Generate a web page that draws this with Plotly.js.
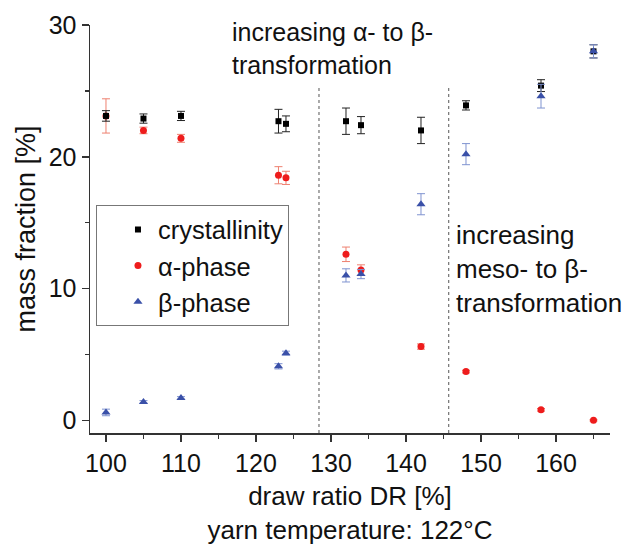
<!DOCTYPE html>
<html>
<head>
<meta charset="utf-8">
<script src="https://cdn.plot.ly/plotly-3.0.1.min.js"></script>
<style>html,body{margin:0;padding:0;background:#fff;}#chart{width:624px;height:545px;}</style>
</head>
<body>
<div id="chart"></div>
<script>
const drawRatio = [100, 105, 110, 123, 124, 132, 134, 142, 148, 158, 165];
const crystallinity = [23.1, 22.9, 23.1, 22.7, 22.5, 22.7, 22.4, 22.0, 23.9, 25.4, 28.0];
const crystallinityErr = [0.4, 0.35, 0.35, 0.9, 0.6, 1.0, 0.65, 1.0, 0.35, 0.45, 0.5];
const alphaPhase = [23.1, 22.0, 21.4, 18.6, 18.4, 12.6, 11.4, 5.6, 3.7, 0.8, 0.0];
const alphaErr = [1.3, 0.25, 0.3, 0.65, 0.5, 0.55, 0.4, 0.2, 0.1, 0.1, 0.05];
const betaPhase = [0.6, 1.4, 1.7, 4.1, 5.1, 11.0, 11.1, 16.4, 20.2, 24.6, 28.0];
const betaErr = [0.25, 0.1, 0.1, 0.2, 0.15, 0.5, 0.35, 0.8, 0.8, 0.9, 0.5];
const regionBounds = [128.4, 145.7];
const regionTop = 25.3;
const xTicks = [100, 110, 120, 130, 140, 150, 160];
const yTicks = [0, 10, 20, 30];

const FONT = 'Liberation Sans, Arial, sans-serif';

const traces = [
  {
    x: drawRatio, y: alphaPhase, name: 'α-phase', type: 'scatter', mode: 'markers',
    legendrank: 2,
    marker: {symbol: 'circle', size: 7, color: '#ee1c1c'},
    error_y: {type: 'data', array: alphaErr, visible: true, color: '#ee8070', thickness: 1, width: 4}
  },
  {
    x: drawRatio, y: crystallinity, name: 'crystallinity', type: 'scatter', mode: 'markers',
    legendrank: 1,
    marker: {symbol: 'square', size: 6, color: '#000000'},
    error_y: {type: 'data', array: crystallinityErr, visible: true, color: '#222222', thickness: 1, width: 4}
  },
  {
    x: drawRatio, y: betaPhase, name: 'β-phase', type: 'scatter', mode: 'markers',
    legendrank: 3,
    marker: {symbol: 'triangle-up', size: 8, color: '#3a50a8'},
    error_y: {type: 'data', array: betaErr, visible: true, color: '#7f93d0', thickness: 1, width: 4}
  }
];

const shapes = regionBounds.map(b => ({
  type: 'line', xref: 'x', yref: 'y', x0: b, x1: b, y0: -0.96, y1: regionTop,
  line: {color: '#555555', width: 1, dash: 'dot'}
}));

const layout = {
  width: 624, height: 545,
  margin: {l: 90, r: 14, t: 25, b: 112},
  paper_bgcolor: '#ffffff', plot_bgcolor: '#ffffff',
  font: {family: FONT, color: '#111111', size: 24},
  showlegend: true,
  legend: {
    x: 0.0115, y: 0.558, xanchor: 'left', yanchor: 'top',
    bordercolor: '#777777', borderwidth: 1, bgcolor: 'rgba(255,255,255,0)',
    font: {family: FONT, size: 25.5, color: '#111111'},
    traceorder: 'normal', indentation: 21, tracegroupgap: 0
  },
  xaxis: {
    range: [97.87, 167.2], tickvals: xTicks, ticktext: xTicks.map(String),
    showline: true, linecolor: '#333333', linewidth: 1.5, mirror: false,
    ticks: 'outside', ticklen: 7, tickwidth: 1.5, tickcolor: '#333333',
    minor: {dtick: 5, tick0: 100, ticks: 'outside', ticklen: 4, tickwidth: 1.5, tickcolor: '#333333', showgrid: false},
    showgrid: false, zeroline: false,
    tickfont: {family: FONT, size: 25, color: '#111111'},
    title: {text: 'draw ratio DR [%]<br>yarn temperature: 122°C', font: {family: FONT, size: 26, color: '#111111'}, standoff: 19}
  },
  yaxis: {
    range: [-0.96, 30], tickvals: yTicks, ticktext: yTicks.map(String),
    showline: true, linecolor: '#333333', linewidth: 1.5, mirror: false,
    ticks: 'outside', ticklen: 7, tickwidth: 1.5, tickcolor: '#333333',
    minor: {dtick: 5, tick0: 0, ticks: 'outside', ticklen: 4, tickwidth: 1.5, tickcolor: '#333333', showgrid: false},
    showgrid: false, zeroline: false,
    tickfont: {family: FONT, size: 25, color: '#111111'},
    title: {text: 'mass fraction [%]', font: {family: FONT, size: 27, color: '#111111'}, standoff: 5}
  },
  shapes: shapes,
  annotations: [
    {
      xref: 'paper', yref: 'paper', x: 0.27, y: 1.023, xanchor: 'left', yanchor: 'top', align: 'left',
      text: 'increasing α- to β-<br>transformation', showarrow: false,
      font: {family: FONT, size: 25, color: '#111111'}
    },
    {
      xref: 'paper', yref: 'paper', x: 0.7, y: 0.526, xanchor: 'left', yanchor: 'top', align: 'left',
      text: 'increasing<br>meso- to β-<br>transformation', showarrow: false,
      font: {family: FONT, size: 26, color: '#111111'}
    }
  ]
};

Plotly.newPlot('chart', traces, layout, {displayModeBar: false, staticPlot: true});
</script>
</body>
</html>
